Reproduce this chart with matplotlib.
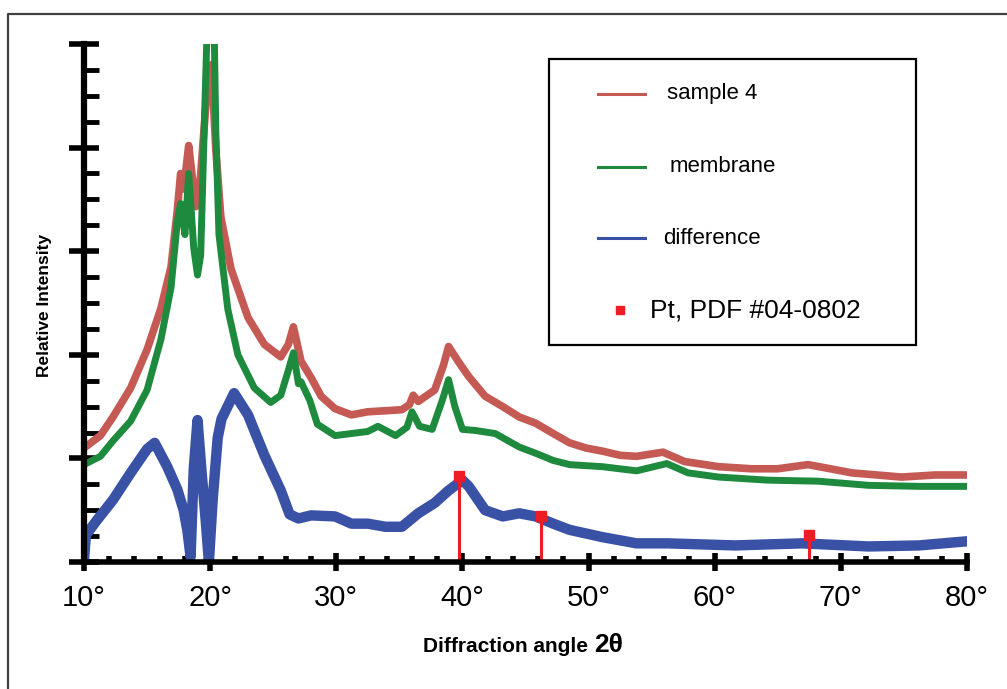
import numpy as np
import matplotlib.pyplot as plt
from matplotlib.ticker import MultipleLocator, FixedLocator, FixedFormatter
from matplotlib.lines import Line2D
from matplotlib.patches import Rectangle

plt.rcParams['font.family'] = ['Liberation Sans', 'DejaVu Sans']

# sample 4 (red)
x_sample = [10, 11.3, 12.3, 13.7, 15.0, 16.1, 16.9, 17.4, 17.66, 17.9, 18.3, 18.6,
            18.86, 19.1, 19.5, 19.8, 20.1, 20.45, 20.85, 21.65, 23.0, 24.3, 25.6,
            26.2, 26.6, 27.2, 28.0, 28.8, 29.9, 31.2, 32.5, 33.9, 35.2, 35.8, 36.1,
            36.5, 37.8, 38.5, 38.9, 39.7, 40.5, 41.8, 43.2, 44.5, 45.8, 47.2, 48.5,
            49.8, 51.1, 52.5, 53.8, 55.9, 57.6, 60.3, 62.9, 65.0, 67.4, 70.9, 74.8,
            77.5, 80]
y_sample = [1.10, 1.22, 1.40, 1.68, 2.05, 2.45, 2.85, 3.40, 3.75, 3.60, 4.02, 3.70,
            3.43, 3.50, 4.15, 4.64, 4.80, 3.98, 3.33, 2.83, 2.36, 2.10, 1.98,
            2.10, 2.27, 1.94, 1.78, 1.60, 1.48, 1.42, 1.45, 1.46, 1.47, 1.52, 1.61,
            1.55, 1.66, 1.90, 2.08, 1.93, 1.79, 1.60, 1.50, 1.40, 1.34, 1.24, 1.15,
            1.10, 1.07, 1.03, 1.02, 1.06, 0.97, 0.92, 0.90, 0.90, 0.94, 0.86, 0.82,
            0.84, 0.84]

# membrane (green)
x_membrane = [10, 11.3, 12.3, 13.7, 15.0, 16.1, 16.9, 17.4, 17.66, 18.0, 18.3, 18.7,
              19.0, 19.25, 19.6, 19.8, 20.3, 20.45, 20.7, 21.4, 22.2, 23.5, 24.8,
              25.6, 26.2, 26.6, 27.0, 27.2, 27.9, 28.5, 29.9, 31.2, 32.5, 33.3,
              34.7, 35.6, 36.0, 36.6, 37.6, 38.4, 38.9, 39.4, 40.0, 41.0, 42.6,
              44.5, 45.8, 47.2, 48.5, 51.1, 53.8, 56.2, 57.9, 60.3, 64.2, 68.2,
              72.2, 76.2, 80]
y_membrane = [0.94, 1.02, 1.17, 1.36, 1.66, 2.15, 2.65, 3.29, 3.46, 3.16, 3.75, 3.03,
              2.77, 2.96, 4.48, 5.30, 5.30, 4.15, 3.16, 2.44, 2.00, 1.68, 1.54,
              1.61, 1.85, 2.02, 1.72, 1.74, 1.56, 1.33, 1.22, 1.24, 1.26, 1.31,
              1.22, 1.30, 1.45, 1.31, 1.28, 1.56, 1.76, 1.50, 1.28, 1.27, 1.24,
              1.11, 1.05, 0.98, 0.94, 0.92, 0.88, 0.95, 0.86, 0.82, 0.79, 0.78,
              0.74, 0.73, 0.73]

# difference (blue)
x_diff = [10.0, 10.15, 11.0, 12.3, 13.7, 15.0, 15.6, 16.6, 17.4, 17.9, 18.2, 18.45,
          18.7, 19.0, 19.3, 19.65, 19.9, 20.2, 20.6, 20.9, 21.9, 23.0, 24.3, 25.6,
          26.3, 27.0, 28.0, 29.9, 31.2, 32.5, 33.9, 35.2, 36.5, 37.8, 38.9, 40.0,
          40.5, 41.8, 43.2, 44.5, 45.8, 47.2, 48.5, 51.1, 53.8, 56.3, 61.6, 66.9,
          72.2, 76.2, 80]
y_diff = [0.02, 0.26, 0.40, 0.60, 0.86, 1.09, 1.15, 0.92, 0.70, 0.50, 0.30, 0.05,
          0.90, 1.37, 0.90, 0.40, 0.00, 0.60, 1.20, 1.38, 1.63, 1.42, 1.03, 0.69,
          0.46, 0.42, 0.45, 0.44, 0.37, 0.37, 0.34, 0.34, 0.47, 0.57, 0.69, 0.79,
          0.73, 0.50, 0.44, 0.47, 0.44, 0.37, 0.31, 0.24, 0.18, 0.18, 0.16, 0.18,
          0.15, 0.16, 0.20]

# Pt reference lines (PDF #04-0802)
pt_angle = [39.76, 46.24, 67.45]
pt_height = [0.83, 0.44, 0.26]

x_ticks = [10, 20, 30, 40, 50, 60, 70, 80]
x_ticklabels = [f'{t}°' for t in x_ticks]

series_labels = ['sample 4', 'membrane', 'difference']
series_colors = ['#C55A55', '#1E8A3E', '#3A52A6']
pt_label = 'Pt, PDF #04-0802'
pt_color = '#EE1C25'

W, H = 1007, 689
fig = plt.figure(figsize=(W / 100, H / 100), dpi=100)
ax = fig.add_axes([84 / W, 1 - 562 / H, (967 - 84) / W, (562 - 44) / H])

# thick strokes stand in for the noisy bands of the raw scans
ax.plot(x_sample, y_sample, color=series_colors[0], lw=5.5, solid_joinstyle='round')
ax.plot(x_membrane, y_membrane, color=series_colors[1], lw=5, solid_joinstyle='round')
ax.plot(x_diff, y_diff, color=series_colors[2], lw=7.5, solid_joinstyle='round')

ax.vlines(pt_angle, 0, pt_height, color=pt_color, lw=2.2, zorder=4)
ax.plot(pt_angle, pt_height, 's', color=pt_color, ms=7, zorder=5)

ax.set_xlim(10, 80)
ax.set_ylim(0, 5)
for s in ['top', 'right']:
    ax.spines[s].set_visible(False)
ax.spines['left'].set_linewidth(4.5)
ax.spines['bottom'].set_linewidth(4)
ax.spines['left'].set_zorder(6)
ax.spines['bottom'].set_zorder(6)

ax.xaxis.set_major_locator(FixedLocator(x_ticks))
ax.xaxis.set_major_formatter(FixedFormatter(x_ticklabels))
ax.xaxis.set_minor_locator(MultipleLocator(2))
ax.yaxis.set_major_locator(MultipleLocator(1))
ax.yaxis.set_minor_locator(MultipleLocator(0.25))
ax.set_yticklabels([])

ax.tick_params(axis='x', which='major', direction='inout', length=13, width=4,
               labelsize=21, pad=9)
ax.tick_params(axis='x', which='minor', direction='in', length=4, width=4)
ax.tick_params(axis='y', which='major', direction='inout', length=22, width=4)
ax.tick_params(axis='y', which='minor', direction='in', length=11, width=3.5)

fig.text(45 / W, 1 - 305 / H, 'Relative Intensity', rotation=90, fontsize=12.5,
         fontweight='bold', ha='center', va='center')
fig.text(594 / W, 1 - 646 / H, 'Diffraction angle ', fontsize=15, fontweight='bold',
         ha='right', va='center')
fig.text(594 / W, 1 - 645 / H, '2θ', fontsize=19, fontweight='bold',
         ha='left', va='center')

# legend box
fig.patches.append(Rectangle((549 / W, 1 - 345 / H), (916 - 549) / W, (345 - 59) / H,
                             transform=fig.transFigure, fill=False, ec='black', lw=1.6))
leg_y = [94, 167, 238]
leg_tx = [667, 670, 663]
for lab, col, yy, tx in zip(series_labels, series_colors, leg_y, leg_tx):
    fig.lines.append(Line2D([598 / W, 645 / W], [1 - yy / H, 1 - yy / H],
                            transform=fig.transFigure, color=col, lw=2.2))
    fig.text(tx / W, 1 - yy / H, lab, fontsize=16, ha='left', va='center')
fig.lines.append(Line2D([620 / W], [1 - 310 / H], transform=fig.transFigure,
                        marker='s', ms=6, color=pt_color, ls='none'))
fig.text(650 / W, 1 - 311 / H, pt_label, fontsize=19, ha='left', va='center')

# outer frame
fig.lines.append(Line2D([8 / W, 8 / W, 1], [0, 1 - 14 / H, 1 - 14 / H],
                        transform=fig.transFigure, color='#404040', lw=1.6))

fig.savefig('out.png', dpi=100)
